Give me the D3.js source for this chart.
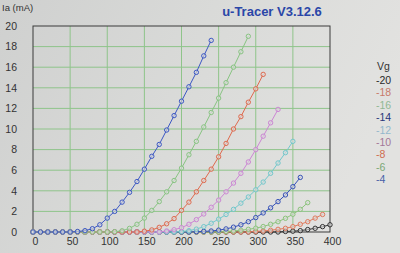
<!DOCTYPE html>
<html>
<head>
<meta charset="UTF-8">
<title>u-Tracer</title>
<script src="https://cdn.jsdelivr.net/npm/d3@7"></script>
<style>
body { margin:0; }
svg { display:block; font-family:"Liberation Sans", Arial, sans-serif; }
</style>
</head>
<body>
<script>
// anode voltage steps (V)
var anodeV = [0,10,20,30,40,50,60,70,80,90,100,110,120,130,140,150,160,170,180,190,200,
  210,220,230,240,250,260,270,280,290,300,310,320,330,340,350,360,370,380,390,400];

// grid voltages (legend order)
var gridV = ["-20","-18","-16","-14","-12","-10","-8","-6","-4"];

// anode current (mA) per grid voltage, one value per anodeV step from 0 V
var ia_m20 = [0,0,0,0,0,0,0,0,0,0,0,0,0,0,0,0,0,0,0,0,0,0,0,0,0,0,0,0,0,0,0,0,0,0,0.05,0.08,0.13,0.24,0.36,0.52,0.7];
var ia_m18 = [0,0,0,0,0,0,0,0,0,0,0,0,0,0,0,0,0,0,0,0,0,0,0,0,0,0,0,0,0,0,0.06,0.1,0.17,0.26,0.36,0.52,0.75,1.0,1.35,1.7];
var ia_m16 = [0,0,0,0,0,0,0,0,0,0,0,0,0,0,0,0,0,0,0,0,0,0,0,0,0,0,0.05,0.1,0.17,0.26,0.37,0.53,0.75,1.0,1.33,1.72,2.2,2.85];
var ia_m14 = [0,0,0,0,0,0,0,0,0,0,0,0,0,0,0,0,0,0,0,0,0,0,0.03,0.06,0.1,0.18,0.3,0.47,0.7,1.0,1.4,1.85,2.35,2.95,3.6,4.4,5.3];
var ia_m12 = [0,0,0,0,0,0,0,0,0,0,0,0,0,0,0,0,0,0,0,0,0.05,0.13,0.28,0.52,0.85,1.25,1.7,2.2,2.8,3.4,4.1,4.85,5.7,6.7,7.7,8.8];
var ia_m10 = [0,0,0,0,0,0,0,0,0,0,0,0,0,0,0,0,0,0,0.1,0.22,0.42,0.75,1.2,1.75,2.4,3.1,3.9,4.75,5.7,6.8,8.0,9.3,10.6,11.9];
var ia_m8  = [0,0,0,0,0,0,0,0,0,0,0,0,0,0,0,0.08,0.2,0.45,0.8,1.3,2.1,2.9,3.9,5.0,6.1,7.3,8.6,10.0,11.2,12.6,13.9,15.3];
var ia_m6  = [0,0,0,0,0,0,0,0,0,0,0,0.03,0.12,0.35,0.75,1.35,2.1,2.95,3.9,5.0,6.2,7.5,8.8,10.2,11.6,13.0,14.5,16.0,17.5,19.0];
var ia_m4  = [0,0,0,0,0,0,0.05,0.13,0.32,0.7,1.35,2.0,2.9,3.85,4.9,6.1,7.35,8.5,9.9,11.3,12.7,14.1,15.5,17.1,18.6];

var xTicks = [0,50,100,150,200,250,300,350,400];
var yTicks = [0,2,4,6,8,10,12,14,16,18,20];

var curves = [ia_m20, ia_m18, ia_m16, ia_m14, ia_m12, ia_m10, ia_m8, ia_m6, ia_m4];
var lineColors = ["#333333","#e07a5c","#8cc47c","#3652b8","#72c8cc","#cc86d4","#df6a4e","#88c482","#3c58c4"];
var textColors = ["#2a2a2a","#c87a6a","#90b894","#27367a","#94b8cc","#a27898","#cf6c50","#7aa876","#4660a8"];

var W = 400, H = 253;
var svg = d3.select("body").append("svg")
  .attr("width", W).attr("height", H);

// photographed screen background
var grad = svg.append("defs").append("linearGradient")
  .attr("id","bg").attr("x1","0").attr("y1","0").attr("x2","1").attr("y2","0.3");
grad.append("stop").attr("offset","0").attr("stop-color","#cfd0cf");
grad.append("stop").attr("offset","0.55").attr("stop-color","#dadbd9");
grad.append("stop").attr("offset","1").attr("stop-color","#e2e2e0");
svg.append("rect").attr("width",W).attr("height",H).attr("fill","url(#bg)");

var x = d3.scaleLinear().domain([0,400]).range([33,330]);
var y = d3.scaleLinear().domain([0,20]).range([232,26]);

// grid
svg.append("g").selectAll("line").data(xTicks.slice(1,-1)).enter().append("line")
  .attr("x1",function(d){return x(d);}).attr("x2",function(d){return x(d);})
  .attr("y1",y(0)).attr("y2",y(20))
  .attr("stroke","#8fc48a").attr("stroke-width",1);
svg.append("g").selectAll("line").data(yTicks.slice(1,-1)).enter().append("line")
  .attr("x1",x(0)).attr("x2",x(400))
  .attr("y1",function(d){return y(d);}).attr("y2",function(d){return y(d);})
  .attr("stroke","#8fc48a").attr("stroke-width",1);

// frame
svg.append("rect").attr("x",x(0)).attr("y",y(20))
  .attr("width",x(400)-x(0)).attr("height",y(0)-y(20))
  .attr("fill","none").attr("stroke","#3a3a3a").attr("stroke-width",1);

// axes labels
var xAxis = svg.append("g").attr("transform","translate(0,"+y(0)+")")
  .call(d3.axisBottom(x).tickValues(xTicks).tickSize(0).tickPadding(6));
var yAxis = svg.append("g").attr("transform","translate("+x(0)+",0)")
  .call(d3.axisLeft(y).tickValues(yTicks).tickSize(0).tickPadding(16));
[xAxis, yAxis].forEach(function(a){
  a.select(".domain").remove();
  a.selectAll("text").attr("fill","#333").style("font-size","10.5px")
    .style("font-family","'Liberation Sans', Arial, sans-serif");
});
yAxis.selectAll("text").attr("text-anchor","end").attr("dx","0");
xAxis.selectAll("text").attr("dx","2");

svg.append("text").attr("x",2).attr("y",11).text("Ia (mA)")
  .attr("fill","#333").style("font-size","9.5px");

svg.append("text").attr("x",272).attr("y",16).attr("text-anchor","middle")
  .text("u-Tracer V3.12.6").attr("fill","#2a46a8")
  .style("font-size","13px").style("font-weight","bold");

// curves
var line = d3.line()
  .x(function(d,i){ return x(anodeV[i]); })
  .y(function(d){ return y(d); });

curves.forEach(function(c, k){
  var g = svg.append("g");
  g.append("path").datum(c).attr("d", line)
    .attr("fill","none").attr("stroke",lineColors[k]).attr("stroke-width",1);
  g.selectAll("circle").data(c).enter().append("circle")
    .attr("cx", line.x()).attr("cy", line.y()).attr("r",2.2)
    .attr("fill","#dcdcdc").attr("fill-opacity",0.6)
    .attr("stroke",lineColors[k]).attr("stroke-width",1);
});

// legend
svg.append("text").attr("x",377).attr("y",70).text("Vg")
  .attr("fill","#333").style("font-size","10.5px");
svg.append("g").selectAll("text").data(gridV).enter().append("text")
  .attr("x",376).attr("y",function(d,i){ return 84 + i*12.4; })
  .text(function(d){return d;})
  .attr("fill",function(d,i){return textColors[i];})
  .style("font-size","10.5px");
</script>
</body>
</html>
